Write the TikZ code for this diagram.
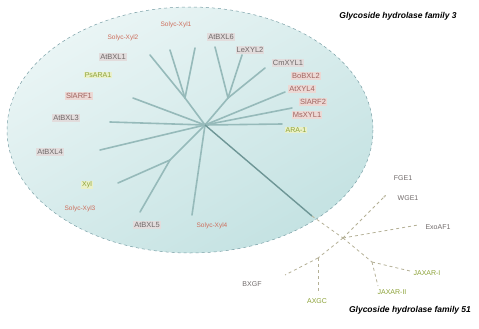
\documentclass[tikz,border=0pt]{standalone}
\usepackage{fontspec}
\setmainfont{Liberation Sans}
\usetikzlibrary{arrows.meta}

\definecolor{sea}{RGB}{234,245,245}
\definecolor{seadark}{RGB}{196,226,226}
\definecolor{rim}{RGB}{120,158,165}
\definecolor{twig}{RGB}{150,186,186}
\definecolor{rootline}{RGB}{110,150,150}
\definecolor{stick}{RGB}{180,176,150}
\definecolor{redtxt}{RGB}{205,110,92}
\definecolor{greytxt}{RGB}{112,106,106}
\definecolor{greybox}{RGB}{226,220,220}
\definecolor{pinkbox}{RGB}{236,216,212}
\definecolor{pinktxt}{RGB}{160,100,96}
\definecolor{greentxt}{RGB}{140,162,56}
\definecolor{greenbox}{RGB}{234,240,200}

\tikzset{
  greytag/.style={font=\fontsize{7.5}{8}\selectfont, text=greytxt, fill=greybox, inner sep=1pt},
  pinktag/.style={font=\fontsize{7.5}{8}\selectfont, text=pinktxt, fill=pinkbox, inner sep=1pt},
  redtag/.style={font=\fontsize{6.5}{7}\selectfont, text=redtxt, inner sep=1pt},
  greentag/.style={font=\fontsize{7}{8}\selectfont, text=greentxt, fill=greenbox, inner sep=1pt},
  dimtag/.style={font=\fontsize{7}{8}\selectfont, text=greytxt, inner sep=1pt},
  title/.style={font=\fontsize{8.5}{10}\selectfont\bfseries\itshape, inner sep=0pt},
  branch/.style={draw=twig, line width=1.6pt, line cap=round},
  stickline/.style={draw=stick, line width=0.8pt, dashed},
}

\begin{document}
\begin{tikzpicture}[x=1pt, y=-1pt]
    \useasboundingbox (0,0) rectangle (479,329);

    % the family 3 cloud
    \shade [top color=sea, bottom color=seadark, shading angle=30] (190,130) ellipse [x radius=183, y radius=123];
    \draw [rim, dashed, line width=0.5pt] (190,130) ellipse [x radius=183, y radius=123];

    % family 3 tree
    \coordinate (hub) at (205,125);
    \coordinate (ul) at (185,98);
    \coordinate (ur) at (228,98);
    \coordinate (ll) at (170,160);
    \draw [branch] (hub) -- (ul);
    \draw [branch] (ul) -- (150,55);
    \draw [branch] (ul) -- (170,50);
    \draw [branch] (ul) -- (195,48);
    \draw [branch] (hub) -- (ur);
    \draw [branch] (ur) -- (215,47);
    \draw [branch] (ur) -- (242,55);
    \draw [branch] (ur) -- (265,68);
    \draw [branch] (hub) -- (285,92);
    \draw [branch] (hub) -- (292,108);
    \draw [branch] (hub) -- (282,124);
    \draw [branch] (hub) -- (133,98);
    \draw [branch] (hub) -- (110,122);
    \draw [branch] (hub) -- (100,150);
    \draw [branch] (hub) -- (ll);
    \draw [branch] (ll) -- (118,183);
    \draw [branch] (ll) -- (140,212);
    \draw [branch] (hub) -- (192,215);

    % family 3 labels
    \node [redtag] (s1) at (176,25) {Solyc-Xyl1};
    \node [redtag] (s2) at (123,38) {Solyc-Xyl2};
    \node [greytag] (b1) at (113,57) {AtBXL1};
    \node [greentag] (p1) at (98,75) {PsARA1};
    \node [pinktag] (a1) at (79,96) {SlARF1};
    \node [greytag] (b3) at (66,118) {AtBXL3};
    \node [greytag] (b4) at (50,152) {AtBXL4};
    \node [greentag] (x1) at (87,185) {Xyl};
    \node [redtag] (s3) at (80,209) {Solyc-Xyl3};
    \node [greytag] (b5) at (147,225) {AtBXL5};
    \node [redtag] (s4) at (212,226) {Solyc-Xyl4};
    \node [greytag] (b6) at (221,37) {AtBXL6};
    \node [greytag] (l2) at (250,50) {LeXYL2};
    \node [greytag] (c1) at (288,63) {CmXYL1};
    \node [pinktag] (b2) at (306,76) {BoBXL2};
    \node [pinktag] (x4) at (302,89) {AtXYL4};
    \node [pinktag] (a2) at (313,102) {SlARF2};
    \node [pinktag] (m1) at (307,115) {MsXYL1};
    \node [greentag] (r1) at (296,130) {ARA-1};

    % family 51 tree
    \coordinate (core) at (343,238);
    \coordinate (lk) at (318,258);
    \coordinate (rk) at (372,262);
    \coordinate (tipw) at (386,195);
    \coordinate (tipe) at (418,225);
    \draw [rootline, line width=1.4pt] (hub) -- (312,216);
    \draw [stickline] (312,216) -- (core);
    \draw [stickline, -{Stealth[length=3pt]}] (core) -- (tipw);
    \draw [stickline] (core) -- (tipe);
    \draw [stickline] (core) -- (lk);
    \draw [stickline] (lk) -- (285,275);
    \draw [stickline] (lk) -- (318,294);
    \draw [stickline] (core) -- (rk);
    \draw [stickline] (rk) -- (410,271);
    \draw [stickline] (rk) -- (378,286);

    % family 51 labels
    \node [dimtag] (f1) at (403,178) {FGE1};
    \node [dimtag] (w1) at (408,198) {WGE1};
    \node [dimtag] (e1) at (438,227) {ExoAF1};
    \node [greentag, fill=none] (j1) at (427,273) {JAXAR-I};
    \node [greentag, fill=none] (j2) at (392,292) {JAXAR-II};
    \node [greentag, fill=none] (g1) at (317,301) {AXGC};
    \node [dimtag] (g2) at (252,284) {BXGF};

    % titles
    \node [title] (t3) at (398,16) {Glycoside hydrolase family 3};
    \node [title] (t51) at (410,310) {Glycoside hydrolase family 51};
\end{tikzpicture}
\end{document}
